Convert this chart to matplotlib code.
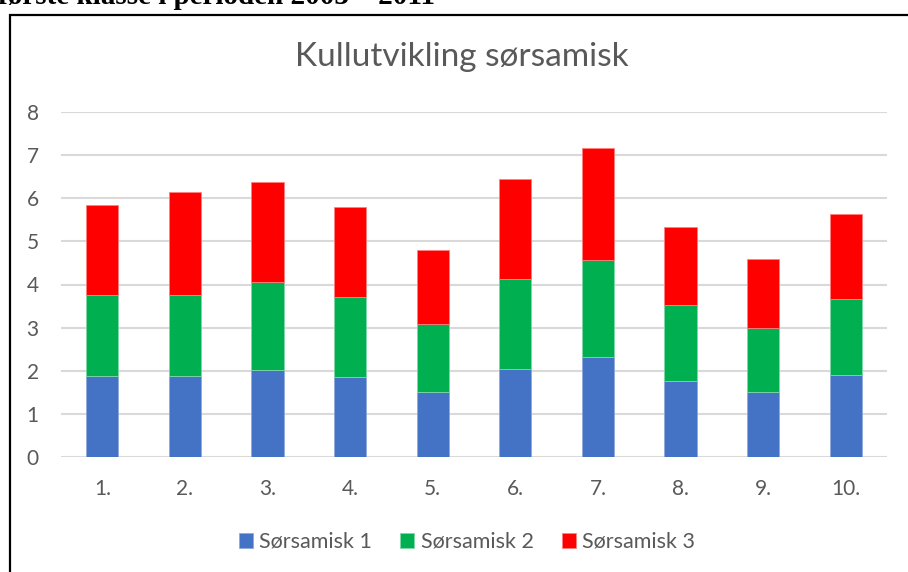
import matplotlib.pyplot as plt
import matplotlib.patches as mpatches
import numpy as np

plt.rcParams['font.family'] = ['Lato', 'DejaVu Sans']

kategorier = ['1.', '2.', '3.', '4.', '5.', '6.', '7.', '8.', '9.', '10.']
sorsamisk_1 = [1.88, 1.88, 2.02, 1.86, 1.51, 2.05, 2.33, 1.77, 1.51, 1.89]
sorsamisk_2 = [1.88, 1.88, 2.04, 1.86, 1.57, 2.07, 2.24, 1.75, 1.49, 1.77]
sorsamisk_3 = [2.09, 2.38, 2.31, 2.08, 1.72, 2.33, 2.59, 1.82, 1.59, 1.98]

W, H = 908, 572
fig = plt.figure(figsize=(W / 100, H / 100), dpi=100)

# ramme rundt diagrammet (går ut over bildekanten)
fig.patches.append(mpatches.Rectangle((9.5 / W, -0.1), 1.2, 1 - 14.5 / H + 0.1,
                                      transform=fig.transFigure, fill=False,
                                      edgecolor='black', lw=1.6))
# avkuttet overskrift fra dokumentet
fig.text(-2 / W, 1 - 4 / H, 'første klasse i perioden 2003 – 2011', family='Liberation Serif',
         weight='bold', fontsize=21, va='baseline', ha='left')

ax = fig.add_axes([61 / W, 1 - 457 / H, 826 / W, 345 / H])
x = np.arange(len(kategorier))
b1 = np.array(sorsamisk_1)
b2 = np.array(sorsamisk_2)
b3 = np.array(sorsamisk_3)
ax.bar(x, b1, 0.39, color='#4472C4', edgecolor='#8faadc', lw=0.6, label='Sørsamisk 1', zorder=3)
ax.bar(x, b2, 0.39, bottom=b1, color='#00B050', edgecolor='#7fd7a7', lw=0.6, label='Sørsamisk 2', zorder=3)
ax.bar(x, b3, 0.39, bottom=b1 + b2, color='#FF0000', edgecolor='#ff8080', lw=0.6, label='Sørsamisk 3', zorder=3)

ax.set_xlim(-0.5, 9.5)
ax.set_ylim(0, 8)
ax.set_yticks(range(9))
ax.set_xticks(x)
ax.set_xticklabels(kategorier)
ax.grid(axis='y', color='#d9d9d9', lw=1.5, zorder=0)
for s in ax.spines.values():
    s.set_visible(False)
ax.tick_params(length=0, labelsize=15, labelcolor='#595959')
ax.tick_params(axis='y', pad=16)
ax.tick_params(axis='x', pad=16)

fig.text(462 / W, 1 - 57 / H, 'Kullutvikling sørsamisk', ha='center', va='center',
         fontsize=24, color='#595959')

fig.legend(loc='center', bbox_to_anchor=(467 / W, 1 - 542 / H), ncol=3, frameon=False,
           fontsize=15.5, labelcolor='#595959', handlelength=0.65, handleheight=0.65,
           handletextpad=0.3, columnspacing=1.3)

fig.savefig('out.png', dpi=100)
